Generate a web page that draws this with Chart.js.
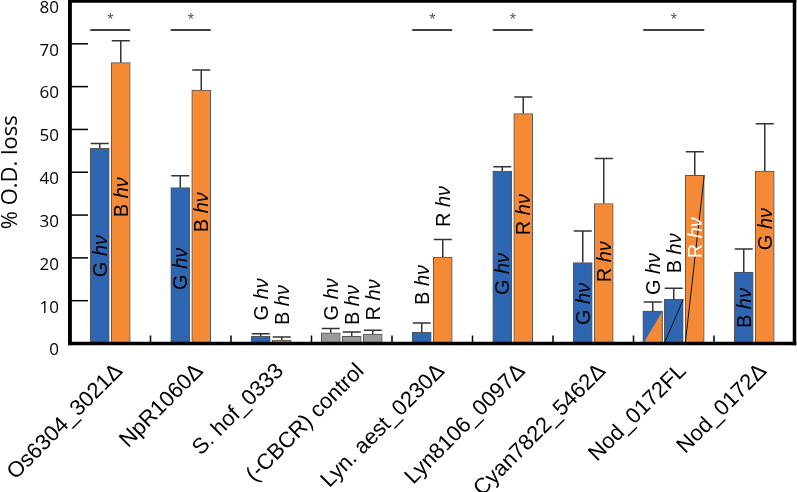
<!DOCTYPE html>
<html>
<head>
<meta charset="utf-8">
<script src="https://cdn.jsdelivr.net/npm/chart.js@4"></script>
<style>
  body { margin: 0; background: #fff; }
</style>
</head>
<body>
<canvas id="myChart" width="797" height="492"></canvas>
<script>
// categories along the x axis
var categories = ["Os6304_3021\u0394", "NpR1060\u0394", "S. hof_0333", "(-CBCR) control",
  "Lyn. aest_0230\u0394", "Lyn8106_0097\u0394", "Cyan7822_5462\u0394", "Nod_0172FL", "Nod_0172\u0394"];

// first, second and third bar of each group (% O.D. loss)
var bar1Values = [45.6, 36.4, 1.7, 2.5, 2.6, 40.3, 18.9, 7.5, 16.7];
var bar2Values = [65.6, 59.2, 0.8, 1.7, 20.2, 53.7, 32.7, 10.3, 40.3];
var bar3Values = [null, null, null, 2.2, null, null, null, 39.3, null];

// upper error (SD)
var bar1Errors = [1.1, 2.8, 0.6, 1.0, 2.2, 1.0, 7.4, 2.2, 5.4];
var bar2Errors = [5.1, 4.7, 0.7, 1.0, 4.1, 3.9, 10.5, 2.6, 11.0];
var bar3Errors = [null, null, null, 0.9, null, null, null, 5.5, null];

// light colour written on each bar
var bar1Light = ["G", "G", "G", "G", "B", "G", "G", "G", "B"];
var bar2Light = ["B", "B", "B", "B", "R", "R", "R", "B", "G"];
var bar3Light = [null, null, null, "R", null, null, null, "R", null];

// where the written label starts (% units)
var bar1LabelAt = [15.5, 12.5, 5.4, 5.4, 9.0, 11.3, 4.3, 11.3, 3.6];
var bar2LabelAt = [29.5, 26.0, 4.3, 4.3, 27.2, 25.3, 14.3, 16.4, 21.8];
var bar3LabelAt = [null, null, null, 5.4, null, null, null, 19.9, null];

// groups marked with a significance star
var significant = [0, 1, 4, 5, 7];

var yTicks = [0, 10, 20, 30, 40, 50, 60, 70, 80];

var BLUE = "#2f66b2";
var ORANGE = "#f58a36";
var GREY = "#9b9b9b";

function drawLight(ctx, px, py, letter, color) {
  ctx.save();
  ctx.translate(px + 7, py);
  ctx.rotate(-Math.PI / 2);
  ctx.fillStyle = color;
  ctx.textAlign = "left";
  ctx.textBaseline = "alphabetic";
  ctx.font = '20px "Liberation Sans"';
  ctx.fillText(letter + " ", 0, 0);
  var w = ctx.measureText(letter + " ").width;
  ctx.font = 'italic 20px "Liberation Sans"';
  ctx.fillText("h\u03bd", w, 0);
  ctx.restore();
}

var overlay = {
  id: "overlay",
  afterDraw: function(chart) {
    var ctx = chart.ctx;
    var xs = chart.scales.x;
    var ys = chart.scales.y;
    var left = xs.left, right = xs.right, top = ys.top, bottom = ys.bottom;
    ctx.save();

    // Nod_0172FL: split first bar, diagonal lines on the others
    var nod = categories.indexOf("Nod_0172FL");
    var b0 = chart.getDatasetMeta(0).data[nod];
    var l0 = b0.x - b0.width / 2, r0 = b0.x + b0.width / 2;
    ctx.fillStyle = ORANGE;
    ctx.beginPath();
    ctx.moveTo(l0, b0.base);
    ctx.lineTo(r0, b0.base);
    ctx.lineTo(r0, b0.y);
    ctx.closePath();
    ctx.fill();
    ctx.strokeStyle = "#555";
    ctx.lineWidth = 1;
    ctx.strokeRect(l0, b0.y, b0.width, b0.base - b0.y);
    [1, 2].forEach(function(d) {
      var b = chart.getDatasetMeta(d).data[nod];
      ctx.strokeStyle = "#111";
      ctx.lineWidth = 1;
      ctx.beginPath();
      ctx.moveTo(b.x - b.width / 2, b.base);
      ctx.lineTo(b.x + b.width / 2, b.y);
      ctx.stroke();
    });

    // error bars and labels
    chart.data.datasets.forEach(function(ds, d) {
      var meta = chart.getDatasetMeta(d);
      meta.data.forEach(function(bar, i) {
        if (ds.data[i] == null) return;
        var top = ys.getPixelForValue(ds.data[i] + ds.errors[i]);
        ctx.strokeStyle = "#333";
        ctx.lineWidth = 1.5;
        ctx.beginPath();
        ctx.moveTo(bar.x, bar.y);
        ctx.lineTo(bar.x, top);
        ctx.moveTo(bar.x - 9, top);
        ctx.lineTo(bar.x + 9, top);
        ctx.stroke();
        var color = (d === 2 && i === nod) ? "#fff" : "#000";
        drawLight(ctx, bar.x, ys.getPixelForValue(ds.labelAt[i]), ds.lights[i], color);
      });
    });

    // significance lines
    significant.forEach(function(i) {
      var first = chart.getDatasetMeta(0).data[i];
      var last = bar3Values[i] != null ? chart.getDatasetMeta(2).data[i] : chart.getDatasetMeta(1).data[i];
      var ly = ys.getPixelForValue(73.2);
      ctx.strokeStyle = "#000";
      ctx.lineWidth = 1.5;
      ctx.beginPath();
      ctx.moveTo(first.x - first.width / 2, ly);
      ctx.lineTo(last.x + last.width / 2, ly);
      ctx.stroke();
      ctx.fillStyle = "#555";
      ctx.font = '16px "Liberation Sans"';
      ctx.textAlign = "center";
      ctx.textBaseline = "middle";
      ctx.fillText("*", (first.x + last.x) / 2, ys.getPixelForValue(75.4));
    });

    // inward ticks on the y axis
    ctx.fillStyle = "#000";
    yTicks.forEach(function(v) {
      if (v === 0 || v === 80) return;
      var py = ys.getPixelForValue(v);
      ctx.fillRect(left, py - 0.75, 18, 1.5);
    });

    // group separators on the x axis
    for (var i = 1; i < categories.length; i++) {
      var px = (xs.getPixelForValue(i - 1) + xs.getPixelForValue(i)) / 2;
      ctx.fillRect(px - 0.75, bottom - 8, 1.5, 8);
    }

    // frame
    var t = 3.5;
    ctx.fillRect(left - t / 2, top - t / 2, right - left + t, t);
    ctx.fillRect(left - t / 2, bottom - t / 2, right - left + t, t);
    ctx.fillRect(left - t / 2, top - t / 2, t, bottom - top + t);
    ctx.fillRect(right - t / 2, top - t / 2, t, bottom - top + t);
    ctx.restore();
  }
};

window.onload = function() {
  var ctx = document.getElementById("myChart").getContext("2d");
  var chart = new Chart(ctx, {
    type: "bar",
    data: {
      labels: categories,
      datasets: [
        {
          data: bar1Values,
          errors: bar1Errors,
          lights: bar1Light,
          labelAt: bar1LabelAt,
          backgroundColor: categories.map(function(c, i) { return i === 3 ? GREY : BLUE; })
        },
        {
          data: bar2Values,
          errors: bar2Errors,
          lights: bar2Light,
          labelAt: bar2LabelAt,
          backgroundColor: categories.map(function(c, i) { return i === 3 ? GREY : (i === 7 ? BLUE : ORANGE); })
        },
        {
          data: bar3Values,
          errors: bar3Errors,
          lights: bar3Light,
          labelAt: bar3LabelAt,
          backgroundColor: categories.map(function(c, i) { return i === 3 ? GREY : ORANGE; })
        }
      ]
    },
    options: {
      responsive: false,
      animation: false,
      devicePixelRatio: 1,
      skipNull: true,
      barThickness: 21,
      maxBarThickness: 19,
      borderColor: "#555",
      borderWidth: 1,
      layout: { padding: { top: 1, right: 2.5, left: 0, bottom: 0 } },
      plugins: {
        legend: { display: false },
        tooltip: { enabled: false }
      },
      scales: {
        x: {
          grid: { display: false, drawTicks: false },
          border: { display: false },
          ticks: {
            color: "#000",
            font: { family: "Liberation Sans", size: 22 },
            minRotation: 45,
            maxRotation: 45,
            autoSkip: false,
            padding: 15,
            labelOffset: 9
          },
          afterFit: function(scale) {
            scale.height = 148.5;
            scale.paddingLeft = 0;
            scale.paddingRight = 0;
          }
        },
        y: {
          min: 0,
          max: 80,
          grid: { display: false, drawTicks: false },
          border: { display: true, color: "#000", width: 3.5 },
          ticks: {
            stepSize: 10,
            color: "#000",
            padding: 11,
            labelOffset: 7,
            font: { family: "Open Sans", size: 17 }
          },
          title: {
            display: true,
            text: "% O.D. loss",
            color: "#000",
            padding: 0,
            font: { family: "Open Sans", size: 22, lineHeight: 1 }
          },
          afterFit: function(scale) {
            scale.width = 70;
            scale.paddingTop = 0;
            scale.paddingBottom = 0;
          }
        }
      }
    },
    plugins: [overlay]
  });
};
</script>
</body>
</html>
